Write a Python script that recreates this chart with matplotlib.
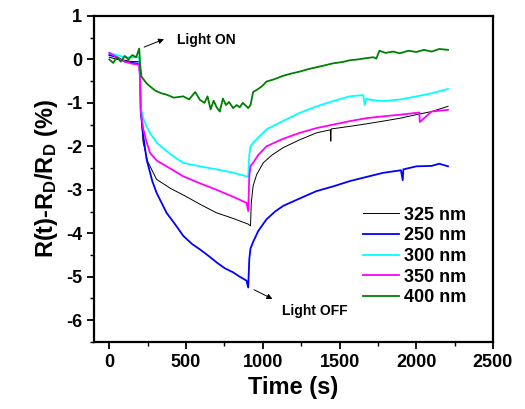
import numpy as np
import matplotlib.pyplot as plt
from matplotlib.ticker import MultipleLocator

plt.rcParams['font.family'] = 'Liberation Sans'
plt.rcParams['font.weight'] = 'bold'
plt.rcParams['mathtext.fontset'] = 'custom'
plt.rcParams['mathtext.rm'] = 'Liberation Sans:bold'
plt.rcParams['mathtext.default'] = 'rm'
plt.rcParams['axes.unicode_minus'] = False

# values (time in s, response in %)
t_325 = [0, 50, 100, 150, 195, 200, 205, 220, 250, 308, 400, 493, 600, 699, 800, 905, 920,
         925, 937, 960, 1003, 1060, 1133, 1240, 1350, 1440, 1443, 1446, 1567, 1680, 1784, 1900, 2001, 2100, 2207]
v_325 = [0.05, 0.0, -0.02, -0.05, -0.05, -0.3, -1.2, -1.9, -2.35, -2.76, -2.97, -3.14, -3.35, -3.53, -3.65, -3.79, -3.83,
         -3.3, -2.91, -2.65, -2.38, -2.2, -2.03, -1.85, -1.69, -1.62, -1.88, -1.6, -1.54, -1.48, -1.42, -1.35, -1.27, -1.2, -1.08]

t_250 = [0, 50, 100, 150, 195, 200, 205, 221, 243, 280, 308, 373, 430, 482, 540, 590, 650, 699, 750, 807, 850, 894, 905,
         912, 920, 937, 970, 1024, 1080, 1133, 1240, 1350, 1460, 1567, 1680, 1784, 1900, 1912, 1916, 2001, 2100, 2150, 2207]
v_250 = [0.1, 0.05, -0.05, -0.08, -0.1, -0.4, -1.2, -1.75, -2.3, -2.8, -3.07, -3.53, -3.8, -4.06, -4.25, -4.37, -4.53, -4.67, -4.8, -4.9, -5.0, -5.09, -5.25,
         -4.6, -4.35, -4.2, -3.95, -3.68, -3.5, -3.37, -3.2, -3.03, -2.92, -2.8, -2.7, -2.61, -2.55, -2.78, -2.53, -2.46, -2.45, -2.4, -2.46]

t_300 = [0, 50, 100, 150, 195, 200, 205, 221, 243, 265, 310, 373, 430, 482, 590, 699, 800, 894, 905,
         912, 920, 937, 970, 1024, 1130, 1241, 1350, 1458, 1567, 1654, 1665, 1675, 1700, 1784, 1900, 2001, 2100, 2207]
v_300 = [0.15, 0.1, 0.05, 0.05, 0.05, -0.3, -1.1, -1.35, -1.55, -1.69, -1.92, -2.11, -2.26, -2.38, -2.46, -2.53, -2.6, -2.69, -2.7,
         -2.2, -2.0, -1.92, -1.8, -1.61, -1.42, -1.23, -1.08, -0.96, -0.85, -0.82, -1.05, -0.9, -0.93, -0.96, -0.92, -0.85, -0.78, -0.68]

t_350 = [0, 50, 100, 150, 195, 200, 205, 221, 243, 265, 310, 373, 430, 482, 590, 699, 800, 894, 905,
         912, 920, 937, 970, 1024, 1130, 1241, 1350, 1458, 1567, 1680, 1784, 1900, 2001, 2020, 2023, 2100, 2207]
v_350 = [0.15, 0.05, -0.05, -0.1, -0.12, -0.4, -1.2, -1.6, -1.9, -2.15, -2.33, -2.46, -2.58, -2.69, -2.85, -3.0, -3.15, -3.3, -3.49,
         -2.7, -2.45, -2.38, -2.2, -2.0, -1.83, -1.69, -1.58, -1.5, -1.42, -1.35, -1.31, -1.27, -1.23, -1.22, -1.44, -1.2, -1.16]

t_400 = [0, 25, 50, 75, 100, 125, 150, 175, 195, 200, 210, 221, 243, 265, 300, 340, 373, 420, 482, 520, 560, 590,
         620, 640, 660, 680, 699, 720, 740, 760, 780, 807, 830, 850, 870, 894, 905, 920, 937, 970, 1000, 1024,
         1080, 1130, 1180, 1241, 1300, 1350, 1400, 1458, 1520, 1567, 1620, 1675, 1720, 1740, 1760, 1800, 1850,
         1892, 1950, 2000, 2050, 2100, 2150, 2207]
v_400 = [0.0, -0.08, 0.05, -0.05, 0.08, 0.0, 0.1, 0.05, 0.25, -0.1, -0.4, -0.45, -0.55, -0.62, -0.72, -0.78, -0.81, -0.88, -0.85, -0.92, -0.75, -0.93,
         -1.0, -0.85, -1.15, -0.95, -1.1, -1.2, -0.9, -1.05, -0.98, -1.12, -1.05, -1.1, -1.0, -1.08, -1.12, -1.05, -0.75, -0.68, -0.6, -0.51,
         -0.45, -0.38, -0.33, -0.28, -0.22, -0.18, -0.14, -0.09, -0.06, -0.02, 0.0, 0.03, 0.05, 0.02, 0.2, 0.15, 0.18,
         0.14, 0.2, 0.17, 0.22, 0.18, 0.24, 0.22]

series = [
    ('325 nm', t_325, v_325, 'k', 0.7),
    ('250 nm', t_250, v_250, '#0000ff', 1.3),
    ('300 nm', t_300, v_300, '#00ffff', 1.3),
    ('350 nm', t_350, v_350, '#ff00ff', 1.3),
    ('400 nm', t_400, v_400, '#008000', 1.3),
]

fig = plt.figure(figsize=(5.25, 4.09), dpi=100)
ax = fig.add_axes([0.179, 0.164, 0.76, 0.797])

for label, t, v, color, lw in series:
    ax.plot(t, v, color=color, lw=lw, label=label)

ax.set_xlim(-100, 2500)
ax.set_ylim(-6.5, 1)
ax.xaxis.set_major_locator(MultipleLocator(500))
ax.xaxis.set_minor_locator(MultipleLocator(250))
ax.yaxis.set_major_locator(MultipleLocator(1))
ax.yaxis.set_minor_locator(MultipleLocator(0.5))
ax.tick_params(which='major', length=5, width=1.3, labelsize=13)
ax.tick_params(which='minor', length=3, width=1.0)
for s in ax.spines.values():
    s.set_linewidth(1.6)

ax.set_xlabel('Time (s)', fontsize=17, fontweight='bold')
ax.set_ylabel('R(t)-R$_D$/R$_D$ (%)', fontsize=17, fontweight='bold')

ax.annotate('', xy=(373, 0.49), xytext=(210, 0.26),
            arrowprops=dict(arrowstyle='-|>', color='k', lw=0.7, mutation_scale=8))
ax.text(440, 0.45, 'Light ON', fontsize=10, fontweight='bold', va='center')
ax.annotate('', xy=(1079, -5.54), xytext=(927, -5.27),
            arrowprops=dict(arrowstyle='-|>', color='k', lw=0.7, mutation_scale=8))
ax.text(1339, -5.78, 'Light OFF', fontsize=10, fontweight='bold', ha='center', va='center')

ax.legend(loc='lower right', bbox_to_anchor=(0.975, 0.06), frameon=False, fontsize=13,
          handlelength=2.0, handletextpad=0.3, labelspacing=0.2)

fig.savefig('out.png', dpi=100)
